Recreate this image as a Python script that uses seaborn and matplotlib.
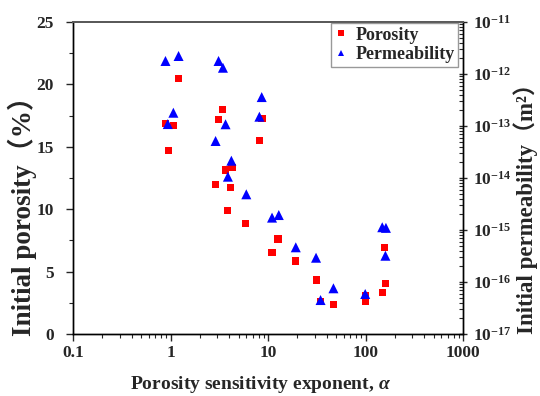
import matplotlib
matplotlib.use("Agg")
import matplotlib.pyplot as plt
import seaborn as sns
import pandas as pd
from matplotlib.ticker import LogLocator, MultipleLocator, NullFormatter
from matplotlib.lines import Line2D

# ---- data ----
por_x = [1.21, 3.45, 3.14, 0.882, 1.07, 8.68, 8.16, 0.947, 4.27, 3.67, 2.90, 4.14, 3.83,
         5.94, 12.67, 11.0, 19.27, 31.1, 34.6, 46.6, 99.3, 99.3, 148.5, 157, 162]
por_y = [20.5, 18.0, 17.2, 16.85, 16.67, 17.25, 15.54, 14.69, 13.36, 13.14, 11.96, 11.72, 9.86,
         8.83, 7.61, 6.55, 5.85, 4.33, 2.64, 2.35, 3.10, 2.64, 3.29, 6.92, 4.01]

perm_x = [0.888, 1.21, 3.11, 3.45, 8.62, 1.07, 0.938, 3.67, 8.16, 2.90, 4.21, 3.88, 5.99,
          11.0, 12.9, 19.27, 31.1, 34.6, 46.9, 99.3, 148.5, 162, 160]
perm_k = [1.78e-12, 2.22e-12, 1.78e-12, 1.32e-12, 3.6e-13, 1.8e-13, 1.09e-13, 1.08e-13, 1.51e-13,
          5.15e-14, 2.15e-14, 1.06e-14, 4.86e-15, 1.73e-15, 1.94e-15, 4.65e-16, 2.93e-16, 4.5e-17,
          7.57e-17, 5.88e-17, 1.13e-15, 1.10e-15, 3.2e-16]

x_ticks = [0.1, 1, 10, 100, 1000]
x_tick_labels = ["0.1", "1", "10", "100", "1000"]
y_ticks = [0, 5, 10, 15, 20, 25]
y_tick_labels = ["0", "5", "10", "15", "20", "25"]
k_ticks = [1e-17, 1e-16, 1e-15, 1e-14, 1e-13, 1e-12, 1e-11]
k_tick_labels = [r"$\mathbf{10^{-17}}$", r"$\mathbf{10^{-16}}$", r"$\mathbf{10^{-15}}$",
                 r"$\mathbf{10^{-14}}$", r"$\mathbf{10^{-13}}$", r"$\mathbf{10^{-12}}$",
                 r"$\mathbf{10^{-11}}$"]

sns.set_style("ticks")
plt.rcParams['font.family'] = ['Liberation Serif', 'Noto Sans CJK SC', 'DejaVu Sans']
plt.rcParams['font.weight'] = 'bold'
plt.rcParams['mathtext.fontset'] = 'custom'
plt.rcParams['mathtext.rm'] = 'Liberation Serif:bold'
plt.rcParams['mathtext.it'] = 'Liberation Serif:bold:italic'
plt.rcParams['mathtext.bf'] = 'Liberation Serif:bold'

df_p = pd.DataFrame({"x": por_x, "y": por_y})
df_k = pd.DataFrame({"x": perm_x, "k": perm_k})

fig = plt.figure(figsize=(5.4, 3.96), dpi=100)
ax = fig.add_axes([73/540, 62/396, 390/540, 312/396])
ax2 = ax.twinx()

red = "#FF0000"
blue = "#0000FF"

sns.scatterplot(data=df_p, x="x", y="y", ax=ax, marker="s", s=26, color=red,
                edgecolor="none", linewidth=0, legend=False, zorder=3)
sns.scatterplot(data=df_k, x="x", y="k", ax=ax2, marker="^", s=52, color=blue,
                edgecolor="none", linewidth=0, legend=False, zorder=3)

ax.set_xscale("log")
ax2.set_yscale("log")

tick_fs = 12.5
ax.set_xticks(x_ticks, x_tick_labels, fontsize=tick_fs, fontweight="bold")
ax.xaxis.set_minor_locator(LogLocator(base=10, subs=range(2, 10), numticks=20))
ax.xaxis.set_minor_formatter(NullFormatter())
ax.set_yticks(y_ticks, y_tick_labels, fontsize=tick_fs, fontweight="bold")
ax.yaxis.set_minor_locator(MultipleLocator(2.5))
ax2.set_yticks(k_ticks, k_tick_labels, fontsize=tick_fs, fontweight="bold")
ax2.yaxis.set_minor_locator(LogLocator(base=10, subs=range(2, 10), numticks=20))
ax2.yaxis.set_minor_formatter(NullFormatter())
ax.set_xlim(0.1, 1000)
ax.set_ylim(0, 25)
ax2.set_ylim(1e-17, 1e-11)

ax.tick_params(axis="x", which="major", direction="out", length=5, width=1, pad=3, top=False)
ax.tick_params(axis="x", which="minor", direction="out", length=3, width=0.8, top=False)
ax.tick_params(axis="y", which="major", direction="out", length=5, width=1, pad=9, right=False)
ax.tick_params(axis="y", which="minor", direction="out", length=3, width=0.8, right=False)
ax2.tick_params(axis="y", which="major", direction="inout", length=6, width=1, pad=4)
ax2.tick_params(axis="y", which="minor", direction="in", length=3, width=0.8)

for a in (ax, ax2):
    for sp in a.spines.values():
        sp.set_color("black")
        sp.set_linewidth(1.0)
    a.spines["top"].set_color("#5a5a5a")
    a.spines["top"].set_linewidth(1.4)
    a.grid(False)

ax.set_xlabel(r"Porosity sensitivity exponent, $\mathit{\alpha}$", fontsize=14, fontweight="bold")
ax.xaxis.set_label_coords((261 - 73) / 390, -0.127)
ax.set_ylabel("Initial porosity（%）", fontsize=19.5, fontweight="bold", loc="bottom")
ax.yaxis.set_label_coords(-0.093, -0.008)
ax2.set_ylabel("Initial permeability（m²）", fontsize=16.5, fontweight="bold", loc="bottom", rotation=90)
ax2.yaxis.set_label_coords(1.129, 0.0)

handles = [
    Line2D([], [], linestyle="none", marker="s", markersize=4, color=red, markeredgewidth=0),
    Line2D([], [], linestyle="none", marker="^", markersize=5, color=blue, markeredgewidth=0),
]
leg = ax2.legend(handles, ["Porosity", "Permeability"], loc="upper right",
                 bbox_to_anchor=(0.988, 0.997), borderaxespad=0, frameon=True, fancybox=False,
                 prop={"family": "Liberation Serif", "weight": "bold", "size": 13},
                 handlelength=0.7, handletextpad=0.45, borderpad=0.2, labelspacing=0.15)
leg.get_frame().set_edgecolor("#808080")
leg.get_frame().set_linewidth(1.0)

fig.savefig("out.png", dpi=100)
